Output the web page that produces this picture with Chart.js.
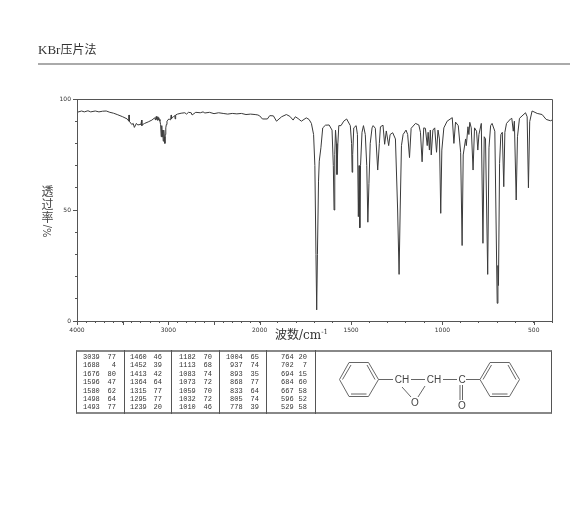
<!DOCTYPE html>
<html><head><meta charset="utf-8">
<script src="https://cdn.jsdelivr.net/npm/chart.js@4"></script>
<style>
html,body{margin:0;padding:0;background:#fff;}
#wrap{position:relative;width:570px;height:511px;overflow:hidden;font-family:"DejaVu Serif","Noto Sans CJK SC",serif;color:#333;}
canvas{position:absolute;left:0;top:0;}
.abs{position:absolute;white-space:nowrap;}
#rule{position:absolute;left:38px;top:63px;width:532px;height:2px;background:#aaa;}
#tbl{position:absolute;left:76px;top:350px;width:476px;height:64px;box-sizing:border-box;border:1px solid #555;border-top:2px solid #888;border-bottom:2px solid #888;}
.div{position:absolute;top:350px;height:64px;width:1px;background:#555;}
.cell{position:absolute;font:7px/8px "Liberation Mono","DejaVu Sans Mono",monospace;color:#333;}
.yc{position:absolute;left:41px;width:13px;text-align:center;font-size:12px;line-height:12px;font-family:"Noto Sans CJK SC",sans-serif;color:#444;}
</style></head><body>
<div id="wrap">
<canvas id="c" width="570" height="511"></canvas>
<div class="abs" style="left:38px;top:41px;font-size:13px;line-height:16px;font-family:'Liberation Serif','Noto Sans CJK SC',serif;">KBr<span style="font-family:'Noto Sans CJK SC';font-size:12px;">压片法</span></div>
<div id="rule"></div>
<div class="yc" style="top:185px;">透</div>
<div class="yc" style="top:198px;">过</div>
<div class="yc" style="top:211px;">率</div>
<div class="yc" style="top:225px;transform:rotate(-90deg);font-family:'DejaVu Sans';font-size:10px;">%/</div>
<div class="abs" style="left:275px;top:327px;font-size:12px;line-height:16px;">波数/cm<sup style="font-size:7px;line-height:0;">-1</sup></div>
<div id="tbl"></div>
<svg class="abs" style="left:0;top:0" width="570" height="511" font-family="Liberation Sans,Arial,sans-serif" font-size="10" fill="#444">
 <g fill="none" stroke="#666" stroke-width="1">
  <path d="M339.5 379.5L349 362.5H368.5L378.5 379.5L368.5 396.5H349Z"/>
  <path d="M342.5 379.5L351 365M351 394H366.5M375 379.5L367 365"/>
  <path d="M378.5 379.5H393M411 379.5H425M443 379.5H457M466 379.5H480"/>
  <path d="M402 387L411 397M425 386L418 397"/>
  <path d="M460 385V400M462.5 385V400"/>
  <path d="M480 379.5L490 362.5H509.5L519.5 379.5L509.5 396.5H490Z"/>
  <path d="M483 379.5L491.5 365M492 394H507.5M516 379.5L508 365"/>
 </g>
 <text x="402" y="383" text-anchor="middle">CH</text>
 <text x="434" y="383" text-anchor="middle">CH</text>
 <text x="462" y="383" text-anchor="middle">C</text>
 <text x="415" y="405.500" text-anchor="middle">O</text>
 <text x="462" y="409" text-anchor="middle">O</text>
</svg>
</div>
<script>
const tableWn=[
 [3039,1688,1676,1596,1580,1498,1493],
 [1460,1452,1413,1364,1315,1295,1239],
 [1182,1113,1083,1073,1059,1032,1010],
 [1004,937,893,868,833,805,778],
 [764,702,694,684,667,596,529]];
const tableT=[
 [77,4,80,47,62,64,77],
 [46,39,42,64,77,77,20],
 [70,68,74,72,70,72,46],
 [65,74,35,77,64,74,39],
 [20,7,15,60,58,52,58]];
const specWn=[4000,3950,3920,3880,3850,3800,3760,3720,3680,3640,3600,3560,3500,3450,3432,3430,3428,3400,3385,3372,3350,3335,3300,3292,3290,3285,3260,3220,3180,3150,3140,3135,3130,3125,3120,3115,3110,3105,3100,3092,3085,3078,3072,3068,3062,3056,3050,3044,3038,3034,3028,3022,3015,3005,2995,2985,2975,2968,2966,2960,2945,2930,2925,2920,2900,2860,2820,2800,2780,2750,2740,2700,2650,2620,2600,2550,2500,2450,2400,2350,2300,2250,2200,2150,2100,2050,2020,2000,1985,1958,1945,1925,1908,1880,1854,1835,1817,1805,1790,1772,1745,1730,1717,1705,1698,1692,1688,1684,1678,1674,1665,1655,1640,1620,1604,1597,1593,1589,1585,1580,1577,1572,1567,1555,1540,1524,1504,1497,1494,1491,1485,1472,1465,1460,1456,1452,1448,1440,1432,1422,1414,1408,1402,1395,1385,1379,1367,1354,1345,1339,1325,1316,1307,1294,1286,1272,1257,1245,1237,1231,1224,1215,1199,1190,1180,1171,1147,1129,1120,1111,1102,1093,1083,1078,1071,1066,1061,1052,1042,1032,1024,1016,1009,1003,992,974,946,937,928,913,900,892,886,873,869,860,855,850,842,832,824,813,806,800,787,778,771,764,752,745,736,728,713,700,696,693,687,680,672,664,658,649,627,620,612,606,596,589,578,545,536,529,522,509,481,454,432,408,400];
const specT=[94,94.6,94.2,94.7,94.2,94.6,94.2,94.5,94.6,94,93.6,93,92,91,90,92.8,90,88.5,89,87.2,89,88.3,88.6,90.5,88,88.4,89,89.7,90.5,91.5,90.5,92,90.8,92.2,90.4,92,90.6,91.6,90.8,90,88.5,83,88,83,86,81,86,83,80,84,87,88.5,90,90.5,91,90.8,90.6,92.8,91,91.6,92,92.5,91,92.8,93.2,93.6,93.8,93.2,94,93.8,92.8,94,93.8,94.2,93.7,94,93.4,93.8,93.5,93.2,93.5,93.3,93.5,93,93.2,93,92.8,92.4,91,91,92.5,92.4,90,92,93,92.2,90.5,92,91.2,90,91.5,90.8,89,84,70,30,5,30,63,72,78,87,88.2,88.3,86,70,50,75,86,80,66,80,88,88,90,91,88,80,67,75,87,88,84,47,70,42,70,85,88,84,70,44.5,62,80,87,88,86.8,68,80,87.5,88.2,79.6,85.6,79,84,84.8,82,50,21,50,79,84,86,84,73.6,86.8,89,88.3,85,71.7,87,86.8,79,85,77,86,74.8,86,87,76,86,82,48.5,77,87,90,91.6,80,89.6,88,76,34,74.8,82,79,87.5,84,89.5,87,68,87,85.5,77,84,89,35,83,82,21,78,88,89,85.5,8,25,16,71,84,85,60.5,85,89,91,91.3,85.5,90,54.5,83,91.3,93.8,92,60,89.8,94.6,93.5,93,90.8,90.2,90.5];
const yTickStep=10, xTickStep=100;
const yLabelled=[0,50,100], xLabelled=[4000,3000,2000,1500,1000,500];

class WavenumberScale extends Chart.LinearScale{
  static id='wavenumber';
  static defaults=Chart.LinearScale.defaults;
  _u(v){return v>=2000?4000-v:2000+(2000-v)*2;}
  getPixelForValue(v){return this.left+this._u(v)/this._u(this.min)*this.width;}
  getValueForPixel(p){const u=(p-this.left)/this.width*this._u(this.min);return u<=2000?4000-u:2000-(u-2000)/2;}
  buildTicks(){const t=[];for(let v=this.max;v>=this.min;v-=xTickStep)t.push({value:v});return t;}
}
Chart.register(WavenumberScale);

const longTicks={id:'longTicks',afterDraw(ch){
  const {ctx,chartArea:a,scales:{x,y}}=ch;
  ctx.save();ctx.strokeStyle='#555';ctx.lineWidth=1;
  ctx.beginPath();ctx.rect(a.left+.5,a.top+.5,a.width,a.height);ctx.stroke();
  ctx.beginPath();
  x.ticks.forEach(t=>{if(t.value%500===0){const p=Math.round(x.getPixelForValue(t.value))+.5;ctx.moveTo(p,a.bottom);ctx.lineTo(p,a.bottom+4);}});
  y.ticks.forEach(t=>{if(t.value%50===0){const p=Math.round(y.getPixelForValue(t.value))+.5;ctx.moveTo(a.left,p);ctx.lineTo(a.left-4,p);}});
  ctx.stroke();ctx.restore();
}};

new Chart(document.getElementById('c'),{
  type:'line',
  data:{datasets:[{data:specWn.map((w,i)=>({x:w,y:specT[i]})),borderColor:'#3a3a3a',borderWidth:1,pointRadius:0,tension:0,fill:false}]},
  plugins:[longTicks],
  options:{
    responsive:false,animation:false,events:[],
    layout:{padding:{left:57,top:99,right:18,bottom:170}},
    plugins:{legend:{display:false},tooltip:{enabled:false},title:{display:false}},
    scales:{
      x:{type:'wavenumber',min:400,max:4000,
        afterFit:s=>{s.height=20;},
        border:{color:'#555',width:1},
        grid:{drawOnChartArea:false,tickLength:2,tickColor:'#555'},
        ticks:{autoSkip:false,maxRotation:0,minRotation:0,padding:4,color:'#333',font:{size:6,family:'DejaVu Sans'},
          callback:v=>xLabelled.includes(v)?String(v):''}},
      y:{min:0,max:100,
        afterFit:s=>{s.width=20;},
        border:{color:'#555',width:1},
        grid:{drawOnChartArea:false,tickLength:2,tickColor:'#555'},
        ticks:{stepSize:yTickStep,autoSkip:false,padding:4,color:'#333',font:{size:6,family:'DejaVu Sans'},
          callback:v=>yLabelled.includes(v)?String(v):''}}
    }
  }
});

const tbl=document.getElementById('wrap');
[124,171,219,266,315].forEach(x=>{const d=document.createElement('div');d.className='div';d.style.left=x+'px';tbl.appendChild(d);});
const colNum=[83,130,179,226,277], colVal=[116,162,212,259,307];
tableWn.forEach((col,k)=>col.forEach((w,i)=>{
  const top=353+i*8.4;
  const a=document.createElement('div');a.className='cell';a.textContent=w;
  a.style.left=(colNum[k]+(w<1000?4:0))+'px';a.style.top=top+'px';tbl.appendChild(a);
  const b=document.createElement('div');b.className='cell';b.textContent=tableT[k][i];
  b.style.right=(570-colVal[k])+'px';b.style.top=top+'px';tbl.appendChild(b);
}));
</script>
</body></html>
